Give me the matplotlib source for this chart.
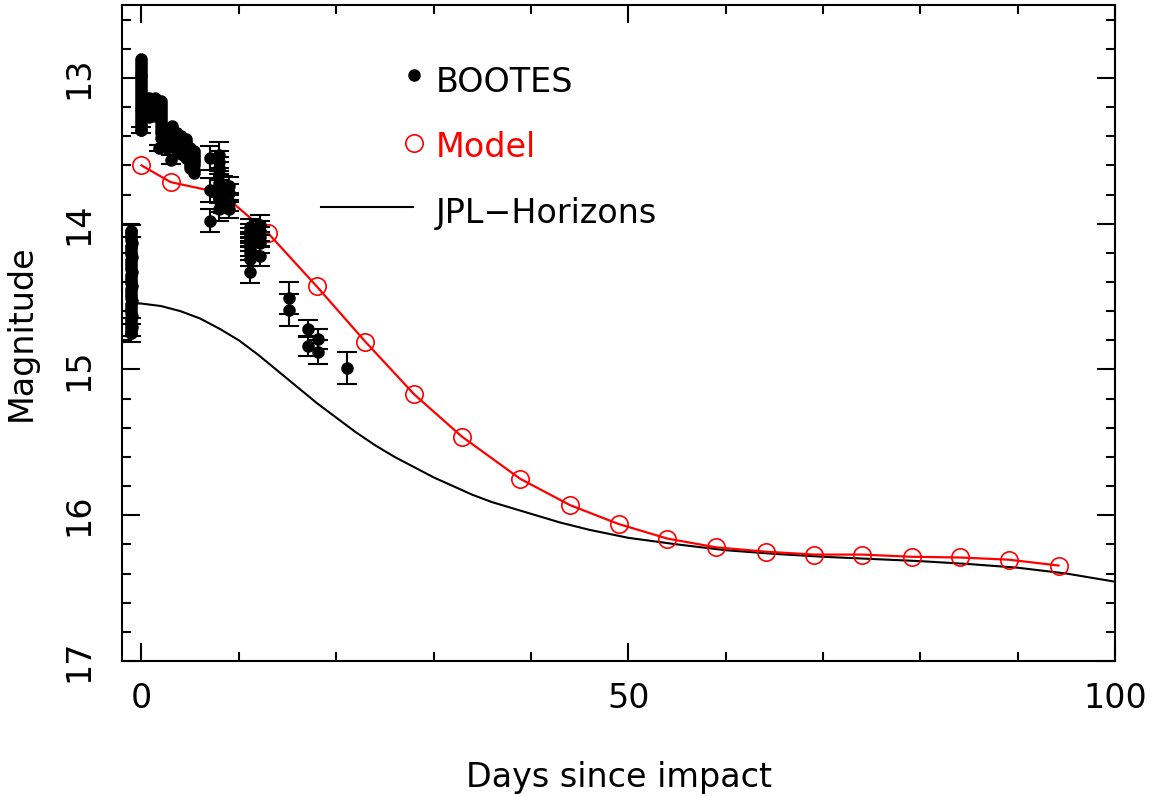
import matplotlib
matplotlib.use("Agg")
import matplotlib.pyplot as plt
from matplotlib.ticker import MultipleLocator

# ---------------- data ----------------
# BOOTES photometry (days since impact, magnitude, error)
# dense pre-impact run (markers only, merged into a column)
pre_day = [-1.1, -1.05, -1.1, -1.05, -1.0, -1.1, -1.05, -1.1, -1.05, -1.0,
           -1.1, -1.05, -1.1, -1.05, -1.0, -1.1, -1.05, -1.1, -1.05, -1.0,
           -1.1, -1.05, -1.1, -1.05, -1.0, -1.1, -1.05, -1.1, -1.05, -1.0,
           -1.05, -1.1, -1.05, -1.0, -1.05, -1.1]
pre_mag = [14.05, 14.07, 14.09, 14.11, 14.13, 14.15, 14.17, 14.19, 14.21, 14.23,
           14.25, 14.27, 14.29, 14.31, 14.33, 14.35, 14.37, 14.39, 14.41, 14.43,
           14.45, 14.47, 14.49, 14.51, 14.53, 14.55, 14.57, 14.59, 14.61, 14.63,
           14.65, 14.67, 14.69, 14.71, 14.73, 14.75]

# dense run right after impact
imp_day = [0.0, 0.0, 0.0, 0.0, 0.0, 0.0, 0.0, 0.0, 0.0, 0.0,
           0.0, 0.0, 0.0, 0.0, 0.0, 0.0, 0.0, 0.0, 0.0, 0.0,
           0.0, 0.0, 0.0, 0.0, 0.0]
imp_mag = [12.87, 12.89, 12.91, 12.93, 12.95, 12.97, 12.99, 13.01, 13.03, 13.05,
           13.07, 13.09, 13.11, 13.13, 13.15, 13.17, 13.19, 13.21, 13.23, 13.25,
           13.27, 13.29, 13.31, 13.33, 13.36]

# staircase of dense runs, days 0.8-5.5
stair_day = [0.8, 0.8, 0.8, 0.8, 0.8, 0.8, 0.8, 0.8,
             1.4, 1.4, 1.4, 1.4, 1.4, 1.4, 1.4,
             2.0, 2.0, 2.0, 2.0, 2.0, 2.0, 2.0, 2.0, 2.0, 2.0, 2.0, 2.0,
             2.6, 2.6, 2.6, 2.6, 2.6, 2.6, 2.6,
             3.1, 3.1, 3.1, 3.1, 3.1, 3.1,
             3.6, 3.6, 3.6, 3.6, 3.6, 3.6, 3.6,
             4.1, 4.1, 4.1, 4.1, 4.1, 4.1, 4.1,
             4.6, 4.6, 4.6, 4.6, 4.6, 4.6, 4.6,
             5.0, 5.0, 5.0, 5.0, 5.0, 5.0, 5.0, 5.0,
             5.4, 5.4, 5.4, 5.4, 5.4, 5.4, 5.4, 5.4]
stair_mag = [13.14, 13.16, 13.18, 13.20, 13.22, 13.24, 13.25, 13.27,
             13.14, 13.16, 13.18, 13.20, 13.22, 13.24, 13.26,
             13.16, 13.18, 13.20, 13.22, 13.24, 13.26, 13.28, 13.30, 13.33, 13.36, 13.38, 13.41,
             13.36, 13.38, 13.40, 13.42, 13.44, 13.46, 13.48,
             13.33, 13.35, 13.37, 13.40, 13.43, 13.47,
             13.38, 13.40, 13.42, 13.44, 13.46, 13.48, 13.50,
             13.40, 13.42, 13.44, 13.46, 13.48, 13.50, 13.52,
             13.42, 13.44, 13.46, 13.48, 13.50, 13.52, 13.55,
             13.48, 13.50, 13.52, 13.54, 13.56, 13.58, 13.60, 13.62,
             13.50, 13.52, 13.54, 13.56, 13.58, 13.60, 13.63, 13.65]

# points whose error bars are visible
eb_day = [-1.05, -1.05, -1.05, 0.0, 1.8, 3.0,
          7.0, 7.0, 7.0,
          8.0, 8.0, 8.0, 8.0, 8.0, 8.0, 8.0, 8.0,
          8.4, 8.4,
          9.0, 9.0, 9.0, 9.0,
          11.1, 11.1, 11.1, 11.1, 11.1, 11.1, 11.1, 11.1, 11.1,
          12.2, 12.2, 12.2, 12.2, 12.2,
          15.2, 15.2,
          17.1, 17.1,
          18.1, 18.1,
          21.1]
eb_mag = [14.05, 14.71, 14.75, 13.36, 13.48, 13.56,
          13.55, 13.77, 13.98,
          13.53, 13.58, 13.62, 13.66, 13.72, 13.78, 13.84, 13.90,
          13.75, 13.85,
          13.74, 13.79, 13.85, 13.90,
          14.02, 14.05, 14.08, 14.11, 14.14, 14.17, 14.20, 14.24, 14.33,
          14.01, 14.05, 14.09, 14.13, 14.22,
          14.51, 14.59,
          14.72, 14.84,
          14.79, 14.88,
          14.99]
eb_err = [0.04, 0.06, 0.06, 0.02, 0.02, 0.03,
          0.08, 0.08, 0.08,
          0.09, 0.08, 0.08, 0.08, 0.08, 0.08, 0.08, 0.08,
          0.08, 0.08,
          0.06, 0.06, 0.06, 0.06,
          0.05, 0.05, 0.05, 0.05, 0.05, 0.05, 0.05, 0.05, 0.08,
          0.07, 0.07, 0.07, 0.07, 0.07,
          0.11, 0.11,
          0.06, 0.07,
          0.07, 0.08,
          0.11]

# Model
model_day = [0.0, 3.0, 8.2, 13.0, 18.0, 23.0, 28.0, 32.9, 38.9, 44.0,
             49.0, 54.0, 59.0, 64.1, 69.1, 74.0, 79.1, 84.1, 89.1, 94.2]
model_mag = [13.60, 13.715, 13.79, 14.065, 14.43, 14.81, 15.17, 15.46, 15.75, 15.93,
             16.06, 16.16, 16.22, 16.25, 16.27, 16.27, 16.285, 16.29, 16.305, 16.345]

# JPL-Horizons prediction
jpl_day = [-1.3, 0, 2, 4, 6, 8, 10, 12, 14, 16, 18, 20, 22, 24, 26, 28, 30, 32,
           34, 36, 38, 40, 43, 46, 50, 55, 60, 65, 70, 75, 80, 85, 90, 95, 100]
jpl_mag = [14.545, 14.548, 14.565, 14.60, 14.65, 14.72, 14.80, 14.90, 15.01, 15.12,
           15.23, 15.33, 15.43, 15.52, 15.60, 15.67, 15.74, 15.80,
           15.86, 15.91, 15.95, 15.99, 16.05, 16.10, 16.155, 16.20, 16.24, 16.265,
           16.285, 16.30, 16.315, 16.335, 16.36, 16.40, 16.456]

legend_labels = ["BOOTES", "Model", "JPL\u2212Horizons"]

# ---------------- plot ----------------
FS = 24
plt.rcParams["font.family"] = ["DejaVu Sans"]

fig = plt.figure(figsize=(11.59, 7.96), dpi=100)
ax = fig.add_axes([122 / 1159, (796 - 661) / 796, (1115 - 122) / 1159, (661 - 5) / 796])

ax.plot(jpl_day, jpl_mag, color="black", lw=1.5, zorder=2)
ax.plot(model_day, model_mag, color="red", lw=1.6, zorder=3)
ax.plot(model_day, model_mag, linestyle="none", marker="o", ms=12.5,
        mfc="none", mec="red", mew=1.2, zorder=4)

MS = 8
mk = dict(linestyle="none", marker="o", ms=MS, color="black", zorder=5)
ax.plot(pre_day, pre_mag, **mk)
ax.plot(imp_day, imp_mag, **mk)
ax.plot(stair_day, stair_mag, **mk)
ax.errorbar(eb_day, eb_mag, yerr=eb_err, fmt="o", color="black", ms=MS,
            elinewidth=1.5, capsize=7, capthick=1.5, zorder=5)

ax.set_xlim(-2, 100)
ax.set_ylim(17, 12.5)

ax.xaxis.set_major_locator(MultipleLocator(50))
ax.xaxis.set_minor_locator(MultipleLocator(10))
ax.yaxis.set_major_locator(MultipleLocator(1))
ax.yaxis.set_minor_locator(MultipleLocator(0.2))
ax.tick_params(which="both", direction="in", top=True, right=True, width=1.5)
ax.tick_params(which="major", length=13)
ax.tick_params(which="minor", length=6.5)
ax.tick_params(axis="x", which="major", pad=15, labelsize=FS)
ax.tick_params(axis="y", which="major", pad=19, labelsize=FS, labelrotation=90)
for lab in ax.get_yticklabels():
    lab.set_verticalalignment("center")
for s in ax.spines.values():
    s.set_linewidth(1.5)

ax.set_xlabel("Days since impact", fontsize=FS, labelpad=33)
ax.set_ylabel("Magnitude", fontsize=FS, labelpad=18)

# legend drawn by hand
tr = ax.transAxes
ax.plot([0.2945], [0.8933], transform=tr, marker="o", ms=MS, color="black", linestyle="none")
ax.text(0.316, 0.8674, legend_labels[0], transform=tr, fontsize=FS, va="baseline", ha="left", color="black")
ax.plot([0.2945], [0.7892], transform=tr, marker="o", ms=12.5, mfc="none", mec="red", mew=1.2, linestyle="none")
ax.text(0.316, 0.7683, legend_labels[1], transform=tr, fontsize=FS, va="baseline", ha="left", color="red")
ax.plot([0.2004, 0.2931], [0.6921, 0.6921], transform=tr, color="black", lw=1.5)
ax.text(0.316, 0.6677, legend_labels[2], transform=tr, fontsize=FS, va="baseline", ha="left", color="black")

fig.savefig("out.png", dpi=100)
